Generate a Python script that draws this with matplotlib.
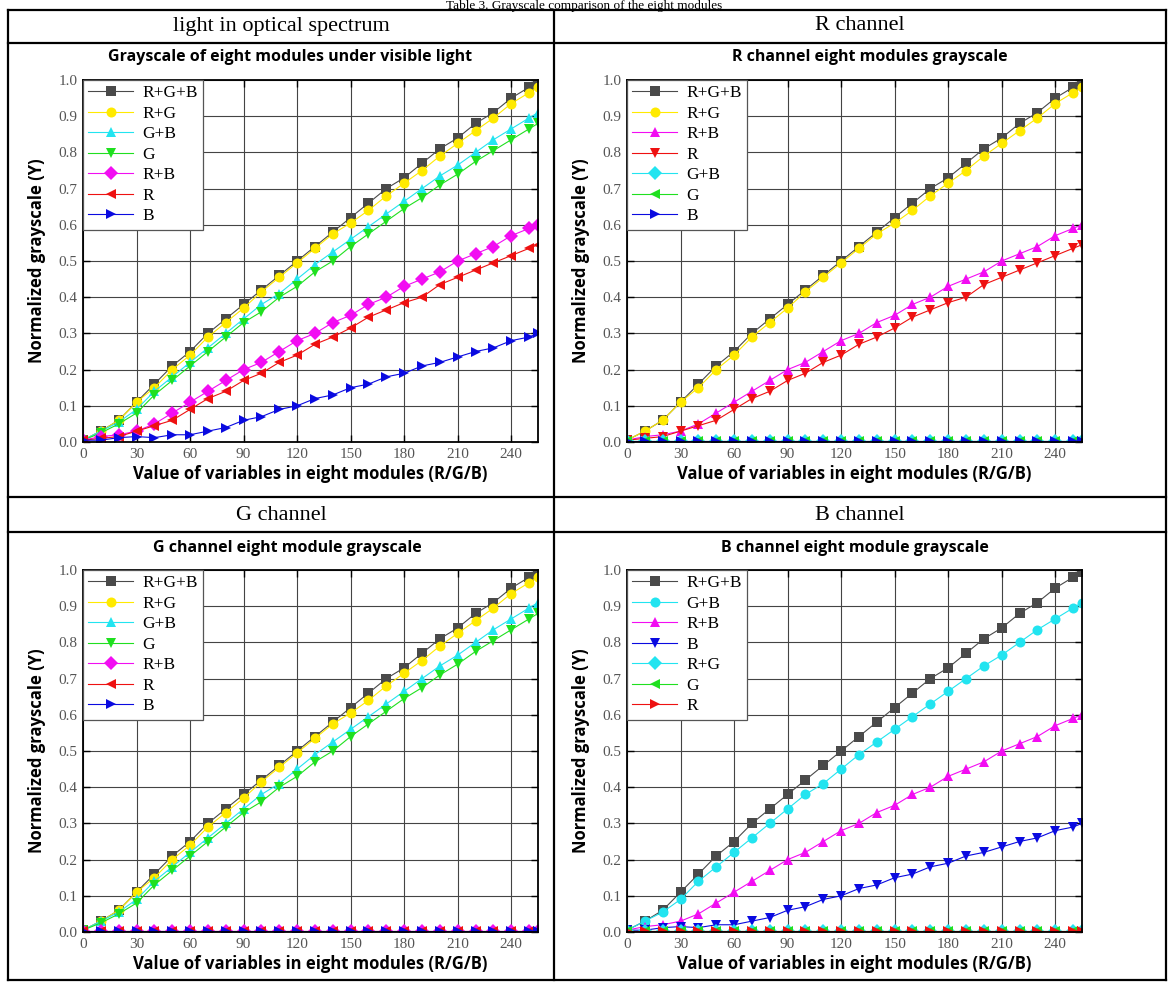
import matplotlib
matplotlib.use("Agg")
import matplotlib.pyplot as plt
from matplotlib.lines import Line2D

# module value (R/G/B)
x_vals = [0, 10, 20, 30, 40, 50, 60, 70, 80, 90, 100, 110, 120, 130, 140, 150,
          160, 170, 180, 190, 200, 210, 220, 230, 240, 250, 255]

# normalized grayscale
rgb = [0.005, 0.03, 0.06, 0.11, 0.16, 0.21, 0.25, 0.30, 0.34, 0.38, 0.42, 0.46, 0.50, 0.54,
       0.58, 0.62, 0.66, 0.70, 0.73, 0.77, 0.81, 0.84, 0.88, 0.91, 0.95, 0.98, 0.995]
rg = [0.005, 0.03, 0.06, 0.11, 0.15, 0.20, 0.24, 0.29, 0.33, 0.37, 0.415, 0.455, 0.495, 0.535,
      0.575, 0.605, 0.64, 0.68, 0.715, 0.75, 0.79, 0.825, 0.86, 0.895, 0.935, 0.965, 0.98]
gb = [0.005, 0.03, 0.055, 0.09, 0.14, 0.18, 0.22, 0.26, 0.30, 0.34, 0.38, 0.41, 0.45, 0.49,
      0.525, 0.56, 0.595, 0.63, 0.665, 0.70, 0.735, 0.765, 0.80, 0.835, 0.865, 0.895, 0.91]
g = [0.005, 0.025, 0.05, 0.08, 0.13, 0.17, 0.21, 0.25, 0.29, 0.33, 0.36, 0.40, 0.43, 0.47,
     0.50, 0.54, 0.575, 0.61, 0.645, 0.675, 0.71, 0.74, 0.775, 0.805, 0.835, 0.865, 0.88]
rb = [0.005, 0.015, 0.02, 0.03, 0.05, 0.08, 0.11, 0.14, 0.17, 0.20, 0.22, 0.25, 0.28, 0.30,
      0.33, 0.35, 0.38, 0.40, 0.43, 0.45, 0.47, 0.50, 0.52, 0.54, 0.57, 0.59, 0.60]
r = [0.005, 0.01, 0.015, 0.03, 0.045, 0.06, 0.09, 0.12, 0.14, 0.17, 0.19, 0.22, 0.24, 0.27,
     0.29, 0.315, 0.345, 0.365, 0.385, 0.40, 0.435, 0.455, 0.475, 0.495, 0.515, 0.535, 0.545]
b = [0.005, 0.005, 0.012, 0.015, 0.012, 0.02, 0.02, 0.03, 0.04, 0.06, 0.07, 0.09, 0.10, 0.12,
     0.13, 0.15, 0.16, 0.18, 0.19, 0.21, 0.22, 0.235, 0.25, 0.26, 0.28, 0.29, 0.30]
zero = [0.004, 0.004, 0.004, 0.004, 0.004, 0.004, 0.004, 0.004, 0.004, 0.004, 0.004, 0.004, 0.004, 0.004,
        0.004, 0.004, 0.004, 0.004, 0.004, 0.004, 0.004, 0.004, 0.004, 0.004, 0.004, 0.004, 0.004]

headers = ["light in optical spectrum", "R channel", "G channel", "B channel"]
titles = ["Grayscale of eight modules under visible light",
          "R channel eight modules grayscale",
          "G channel eight module grayscale",
          "B channel eight module grayscale"]

GRAY = "#4a4a4a"
YEL = "#ffea00"
CYAN = "#22e4f0"
GREEN = "#1fe01f"
MAG = "#f20df2"
RED = "#ee1111"
BLUE = "#0a0ae0"

panels = [
    [("R+G+B", rgb, "s", GRAY), ("R+G", rg, "o", YEL), ("G+B", gb, "^", CYAN), ("G", g, "v", GREEN),
     ("R+B", rb, "D", MAG), ("R", r, "<", RED), ("B", b, ">", BLUE)],
    [("R+G+B", rgb, "s", GRAY), ("R+G", rg, "o", YEL), ("R+B", rb, "^", MAG), ("R", r, "v", RED),
     ("G+B", zero, "D", CYAN), ("G", zero, "<", GREEN), ("B", zero, ">", BLUE)],
    [("R+G+B", rgb, "s", GRAY), ("R+G", rg, "o", YEL), ("G+B", gb, "^", CYAN), ("G", g, "v", GREEN),
     ("R+B", zero, "D", MAG), ("R", zero, "<", RED), ("B", zero, ">", BLUE)],
    [("R+G+B", rgb, "s", GRAY), ("G+B", gb, "o", CYAN), ("R+B", rb, "^", MAG), ("B", b, "v", BLUE),
     ("R+G", zero, "D", CYAN), ("G", zero, "<", GREEN), ("R", zero, ">", RED)],
]

W, H = 1168, 983
fig = plt.figure(figsize=(W / 100, H / 100), dpi=100)


def fx(px):
    return px / W


def fy(py):
    return 1 - py / H


# table grid
def hline(y, x0=8, x1=1166):
    fig.add_artist(Line2D([fx(x0), fx(x1)], [fy(y), fy(y)], color="black", lw=1.6))


def vline(x, y0=10, y1=980):
    fig.add_artist(Line2D([fx(x), fx(x)], [fy(y0), fy(y1)], color="black", lw=1.6))


for yy in [10, 43, 497, 532, 980]:
    hline(yy)
for xx in [8, 554, 1166]:
    vline(xx)

fig.text(0.5, fy(0.5), "Table 3. Grayscale comparison of the eight modules",
         ha="center", va="top", fontsize=9.5, family="Liberation Serif")

serif = "Liberation Serif"
sans = "Open Sans"

axes_pos = [(83, 80), (627, 80), (83, 570), (627, 570)]
header_pos = [(281, 26), (860, 26), (281, 515), (860, 515)]
title_pos = [(290, 57), (870, 57), (287, 548), (855, 548)]

for i, series in enumerate(panels):
    x0, y0 = axes_pos[i]
    ax = fig.add_axes([fx(x0), fy(y0 + 362), fx(455), 362 / H])
    for lab, vals, mk, col in series:
        ax.plot(x_vals, vals, marker=mk, color=col, lw=0.8, ms=7.2, label=lab,
                markeredgewidth=0)
    ax.set_xlim(0, 255)
    ax.set_ylim(0, 1.0)
    ax.set_xticks(range(0, 241, 30))
    ax.set_yticks([k / 10 for k in range(11)])
    ax.set_yticklabels([f"{k / 10:.1f}" for k in range(11)])
    ax.grid(True, color="#444444", lw=0.8)
    ax.tick_params(direction="in", top=True, right=True, length=5, width=1,
                   labelsize=11, labelcolor="#555555", pad=4)
    for t in ax.get_xticklabels() + ax.get_yticklabels():
        t.set_family(serif)
    for s in ax.spines.values():
        s.set_linewidth(1.3)
    ax.set_xlabel("Value of variables in eight modules (R/G/B)", fontsize=12,
                  fontweight="bold", family=sans, labelpad=3)
    ax.set_ylabel("Normalized grayscale (Y)", fontsize=12, fontweight="bold",
                  family=sans, labelpad=9)
    leg = ax.legend(loc="upper left", borderaxespad=0, fancybox=False,
                    prop={"family": serif, "size": 12.5}, handlelength=2.6,
                    labelspacing=0.25, handletextpad=0.5, borderpad=0.3,
                    framealpha=1)
    leg.get_frame().set_edgecolor("#555555")
    leg.get_frame().set_linewidth(0.9)

    hx, hy = header_pos[i]
    fig.text(fx(hx), fy(hy), headers[i], ha="center", va="center", fontsize=16,
             family=serif)
    tx, ty = title_pos[i]
    fig.text(fx(tx), fy(ty), titles[i], ha="center", va="center", fontsize=11.5,
             fontweight="bold", family=sans)

fig.savefig("out.png", dpi=100)
